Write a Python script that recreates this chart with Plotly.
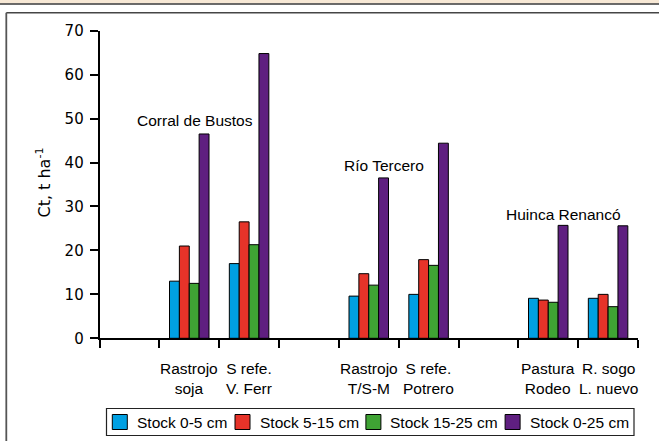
import plotly.graph_objects as go

W, H = 659, 441

# Sites and the two treatments sampled at each one
sites = ["Corral de Bustos", "Río Tercero", "Huinca Renancó"]
treatments = [
    "Rastrojo<br>soja", "S refe.<br>V. Ferr",
    "Rastrojo<br>T/S-M", "S refe.<br>Potrero",
    "Pastura<br>Rodeo", "R. sogo<br>L. nuevo",
]

# Carbon stocks (t/ha) by depth layer
series_names = ["Stock 0-5 cm", "Stock 5-15 cm", "Stock 15-25 cm", "Stock 0-25 cm"]
stock_0_5 = [13.0, 17.0, 9.6, 10.0, 9.1, 9.1]
stock_5_15 = [21.0, 26.5, 14.7, 17.9, 8.7, 10.0]
stock_15_25 = [12.5, 21.3, 12.1, 16.6, 8.2, 7.2]
stock_0_25 = [46.5, 64.8, 36.5, 44.4, 25.7, 25.6]
series_values = [stock_0_5, stock_5_15, stock_15_25, stock_0_25]

y_ticks = [0, 10, 20, 30, 40, 50, 60, 70]

colors = ["#00A0E2", "#E63329", "#3FA334", "#5F1F80"]
FONT = "Liberation Sans, Arial, sans-serif"
AXIS_FONT = "DejaVu Sans, Verdana, sans-serif"
FS = 15.5


def px_x(p):
    return p / W


def px_y(p):
    return (H - p) / H


# every site takes three slots: an empty one, then its two treatments
slot_x = [3 * (i // 2) + 1 + (i % 2) + 0.5 for i in range(len(treatments))]
n_slots = 3 * len(sites)

fig = go.Figure()
for name, vals, col in zip(series_names, series_values, colors):
    fig.add_trace(go.Bar(
        x=slot_x, y=vals, name=name,
        marker=dict(color=col, line=dict(color="black", width=1)),
        showlegend=False,
    ))

annotations = []
# treatment labels under each group
for x, lab in zip(slot_x, treatments):
    annotations.append(dict(
        x=x, xref="x", y=px_y(358), yref="paper", xanchor="center", yanchor="top",
        text=lab, showarrow=False, font=dict(family=FONT, size=FS, color="black"),
    ))

# site names above their groups
site_pos = [(1.60, 49.5), (4.76, 39.3), (7.76, 28.1)]
for (sx, sy), s in zip(site_pos, sites):
    annotations.append(dict(
        x=sx, y=sy, xref="x", yref="y", xanchor="center", yanchor="middle",
        text=s, showarrow=False,
        font=dict(family=FONT, size=FS, color="black"),
    ))

# y-axis title
annotations.append(dict(
    x=px_x(43.5), y=px_y(183), xref="paper", yref="paper",
    xanchor="center", yanchor="middle",
    text="Ct, t ha<sup>-1</sup>", textangle=-90, showarrow=False,
    font=dict(family=AXIS_FONT, size=16, color="black"),
))

shapes = [
    # header band and rules
    dict(type="rect", xref="paper", yref="paper", x0=0, x1=1, y0=px_y(3.5), y1=1,
         fillcolor="#F7E8D5", line=dict(width=0), layer="below"),
    dict(type="line", xref="paper", yref="paper", x0=0, x1=1, y0=px_y(4), y1=px_y(4),
         line=dict(color="#3A3A3A", width=1.5)),
    dict(type="line", xref="paper", yref="paper", x0=px_x(6.3), x1=1, y0=px_y(12.7), y1=px_y(12.7),
         line=dict(color="#454545", width=1.6)),
    dict(type="line", xref="paper", yref="paper", x0=px_x(6.3), x1=px_x(6.3), y0=0, y1=px_y(12.7),
         line=dict(color="#555555", width=1.8)),
    # legend frame
    dict(type="rect", xref="paper", yref="paper", x0=px_x(106.5), x1=px_x(634), y0=px_y(435.5), y1=px_y(408.5),
         line=dict(color="#222222", width=1.2), fillcolor="white"),
]

# legend entries
legend_left = [112.3, 235.0, 365.9, 505.1]
for lx, name, col in zip(legend_left, series_names, colors):
    shapes.append(dict(
        type="rect", xref="paper", yref="paper",
        x0=px_x(lx), x1=px_x(lx + 15), y0=px_y(429.5), y1=px_y(414.5),
        fillcolor=col, line=dict(color="black", width=1),
    ))
    annotations.append(dict(
        x=px_x(lx + 22.5), y=px_y(422.5), xref="paper", yref="paper",
        xanchor="left", yanchor="middle", text=name, showarrow=False,
        font=dict(family=FONT, size=FS, color="black"),
    ))

fig.update_layout(
    width=W, height=H,
    margin=dict(l=0, r=0, t=0, b=0, pad=0, autoexpand=False),
    paper_bgcolor="white", plot_bgcolor="white",
    barmode="group", bargap=0.34, bargroupgap=0,
    font=dict(family=FONT, size=FS, color="black"),
    showlegend=False,
    xaxis=dict(
        domain=[px_x(99.5), px_x(638)], range=[0, n_slots], automargin=False,
        tickmode="array", tickvals=list(range(n_slots + 1)),
        ticks="outside", ticklen=8, tickwidth=1.5, tickcolor="black",
        showticklabels=False, showgrid=False, zeroline=False,
        showline=True, linecolor="black", linewidth=1.6,
    ),
    yaxis=dict(
        domain=[px_y(338.3), px_y(30.7)], range=[0, 70], automargin=False,
        tickmode="array", tickvals=y_ticks,
        ticks="outside", ticklen=8, tickwidth=1.5, tickcolor="black",
        showgrid=False, zeroline=False,
        showline=True, linecolor="black", linewidth=1.6,
        tickfont=dict(family=AXIS_FONT, size=15, color="black"),
        ticklabelstandoff=3,
    ),
    shapes=shapes,
    annotations=annotations,
)

fig.write_html("out.html")
